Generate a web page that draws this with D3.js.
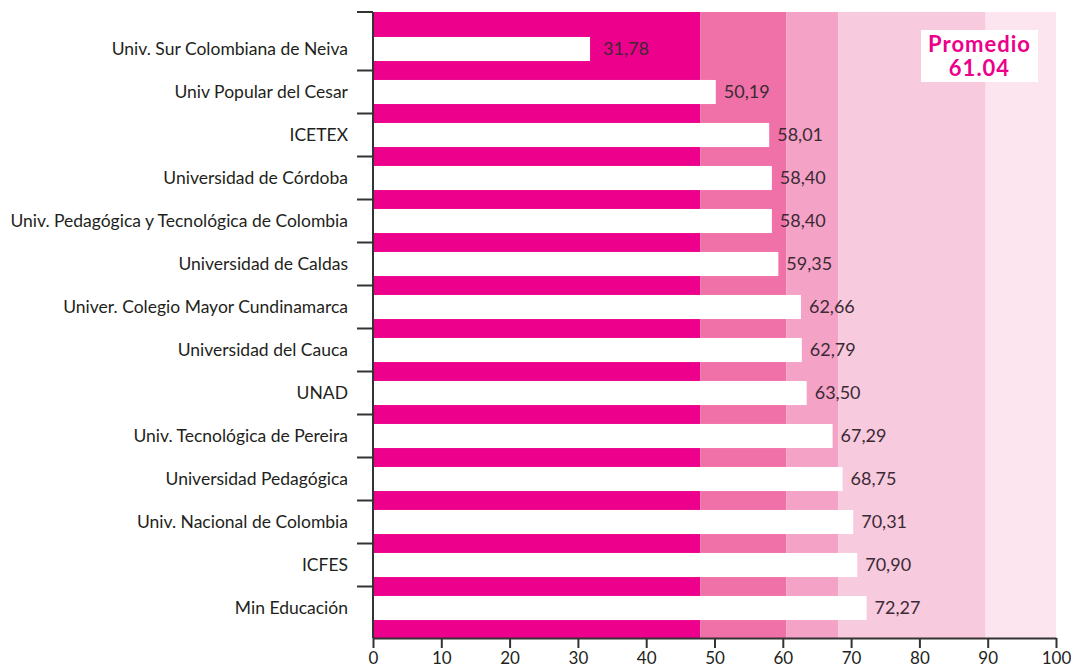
<!DOCTYPE HTML>
<html>
  <head>
    <style>
	body { margin: 0; background: #fff; }
	text { font-family: Lato, "Open Sans", sans-serif; }
	</style>
  </head>
  <body>
	<script src="https://cdn.jsdelivr.net/npm/d3@7"></script>
    <script>

		// *** DATA ***

		var categories = [
			'Univ. Sur Colombiana de Neiva',
			'Univ Popular del Cesar',
			'ICETEX',
			'Universidad de Córdoba',
			'Univ. Pedagógica y Tecnológica de Colombia',
			'Universidad de Caldas',
			'Univer. Colegio Mayor Cundinamarca',
			'Universidad del Cauca',
			'UNAD',
			'Univ. Tecnológica de Pereira',
			'Universidad Pedagógica',
			'Univ. Nacional de Colombia',
			'ICFES',
			'Min Educación'
		];
		var values = [31.78, 50.19, 58.01, 58.40, 58.40, 59.35, 62.66, 62.79, 63.50, 67.29, 68.75, 70.31, 70.90, 72.27];
		var bandEdges = [0, 47.9, 60.5, 68.1, 89.7, 100];
		var bandColors = ['#EC008C', '#F071A8', '#F4A3C7', '#F8CADE', '#FCE5EF'];
		var xTicks = [0, 10, 20, 30, 40, 50, 60, 70, 80, 90, 100];
		var promedio = 61.04;

		// *** SCALES ***

		var W = 1071, H = 671;
		var yTop = 12, yBottom = 638;

		var x = d3.scaleLinear().domain([0, 100]).range([373, 1056]);
		var y = d3.scaleBand().domain(categories)
			.range([27.5, 629.5])
			.paddingInner(0.44)
			.paddingOuter(0.22);

		var svg = d3.select('body').append('svg')
			.attr('width', W)
			.attr('height', H);

		// background bands
		var bands = d3.range(bandColors.length).map(function(i){
			return {x0: bandEdges[i], x1: bandEdges[i+1], color: bandColors[i]};
		});
		svg.append('g').selectAll('rect').data(bands)
			.enter().append('rect')
			.attr('x', function(d){ return x(d.x0); })
			.attr('y', yTop)
			.attr('width', function(d){ return x(d.x1) - x(d.x0); })
			.attr('height', yBottom - yTop)
			.style('fill', function(d){ return d.color; });

		// white bars
		var rows = categories.map(function(c, i){ return {name: c, value: values[i]}; });
		svg.append('g').selectAll('rect').data(rows)
			.enter().append('rect')
			.attr('x', x(0) + 1)
			.attr('y', function(d){ return y(d.name); })
			.attr('width', function(d){ return x(d.value) - x(0) - 1; })
			.attr('height', y.bandwidth())
			.style('fill', '#fff');

		// value labels
		svg.append('g').selectAll('text').data(rows)
			.enter().append('text')
			.attr('x', function(d, i){ return x(d.value) + (i == 0 ? 13 : 8); })
			.attr('y', function(d){ return y(d.name) + y.bandwidth()/2; })
			.attr('dy', '.36em')
			.style('font-size', '18px')
			.style('fill', '#3B2A35')
			.text(function(d){ return d.value.toFixed(2).replace('.', ','); });

		// category labels
		svg.append('g').selectAll('text').data(rows)
			.enter().append('text')
			.attr('x', 348)
			.attr('y', function(d){ return y(d.name) + y.bandwidth()/2; })
			.attr('dy', '.36em')
			.style('text-anchor', 'end')
			.style('font-size', '17.5px')
			.style('fill', '#231F20')
			.text(function(d){ return d.name; });

		// y axis line + ticks between rows
		var gap = y.step() - y.bandwidth();
		var yTicks = [yTop].concat(categories.slice(1).map(function(c){ return y(c) - gap/2; }));
		var gy = svg.append('g');
		gy.append('line')
			.attr('x1', x(0)).attr('x2', x(0))
			.attr('y1', yTop).attr('y2', yBottom)
			.style('stroke', '#333').style('stroke-width', 2);
		gy.selectAll('.yt').data(yTicks)
			.enter().append('line')
			.attr('class', 'yt')
			.attr('x1', 357).attr('x2', x(0))
			.attr('y1', function(d){ return d; })
			.attr('y2', function(d){ return d; })
			.style('stroke', '#333').style('stroke-width', 2);

		// x axis
		var gx = svg.append('g')
			.attr('transform', 'translate(0,' + yBottom + ')')
			.call(d3.axisBottom(x).tickValues(xTicks).tickSize(10).tickSizeOuter(0).tickPadding(4));
		gx.select('.domain').style('stroke', '#333').style('stroke-width', 2);
		gx.selectAll('.tick line').style('stroke', '#333').style('stroke-width', 2);
		gx.selectAll('.tick text')
			.style('font-family', 'Lato, sans-serif')
			.style('font-size', '17px')
			.style('fill', '#231F20');

		// promedio box
		var gp = svg.append('g');
		gp.append('rect')
			.attr('x', 921).attr('y', 30)
			.attr('width', 117).attr('height', 52)
			.style('fill', '#fff');
		gp.append('text')
			.attr('x', 979.5).attr('y', 52)
			.style('text-anchor', 'middle')
			.style('font-size', '22px')
			.style('font-weight', 'bold')
			.style('letter-spacing', '1px')
			.style('fill', '#EC008C')
			.text('Promedio');
		gp.append('text')
			.attr('x', 979.5).attr('y', 76)
			.style('text-anchor', 'middle')
			.style('font-size', '22px')
			.style('font-weight', 'bold')
			.style('letter-spacing', '1px')
			.style('fill', '#EC008C')
			.text(promedio.toFixed(2));

	</script>
  </body>
</html>
